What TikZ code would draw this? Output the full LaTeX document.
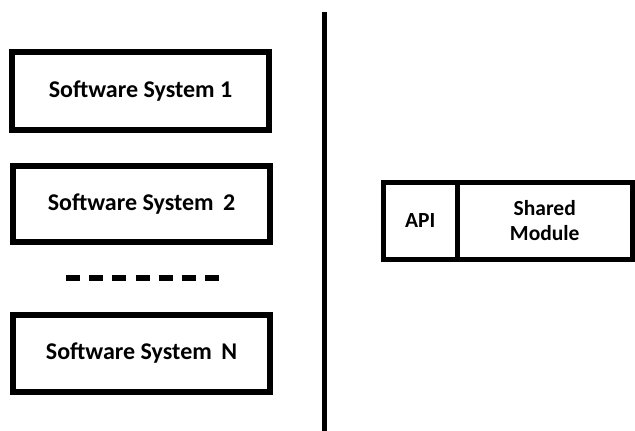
\documentclass[tikz,border=0pt]{standalone}
\usepackage{fontspec}
\setmainfont{Carlito}
\begin{document}
\begin{tikzpicture}[x=1pt,y=-1pt,
  sysbox/.style={draw=black,line width=6pt,rectangle,minimum width=257pt,
    inner sep=0pt,outer sep=0pt,font=\fontsize{24}{29}\selectfont\bfseries},
  modcell/.style={draw=black,line width=5pt,rectangle,minimum height=77pt,
    inner sep=0pt,outer sep=0pt,align=center,font=\fontsize{21.5}{25}\selectfont\bfseries}]
  \useasboundingbox (0,0) rectangle (635,431);
  % stacked software systems on the left
  \node[sysbox,minimum height=78pt] (sys1) at (140.5,91) {Software System 1};
  \node[sysbox,minimum height=76pt] (sys2) at (141.5,204) {Software System\hspace{4pt} 2};
  \node[sysbox,minimum height=77pt] (sysN) at (141.5,353.5) {Software System\hspace{4pt} N};
  % ellipsis between system 2 and system N
  \coordinate (dotsL) at (66,277.5);
  \coordinate (dotsR) at (219,277.5);
  \draw[line width=6pt,dash pattern=on 14pt off 9.17pt] (dotsL) -- (dotsR);
  % vertical divider
  \coordinate (divTop) at (324.5,12);
  \coordinate (divBot) at (324.5,431);
  \draw[line width=5pt] (divTop) -- (divBot);
  % shared module with its API on the right
  \node[modcell,minimum width=73.5pt] (api) at (420.25,221) {API};
  \node[modcell,minimum width=175.5pt] (shared) at (544.75,221) {Shared\\Module};
\end{tikzpicture}
\end{document}
